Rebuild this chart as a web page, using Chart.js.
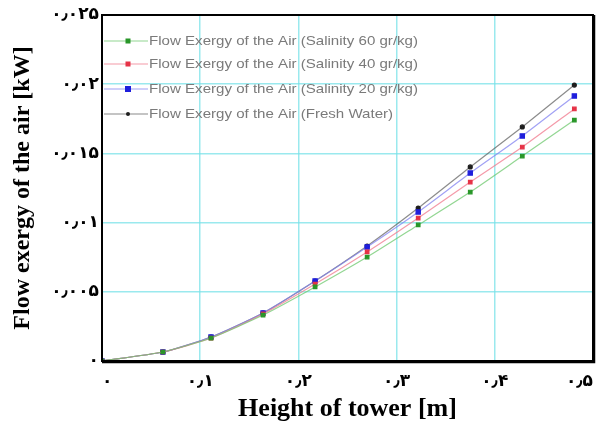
<!DOCTYPE html>
<html>
<head>
<meta charset="utf-8">
<script src="https://cdn.jsdelivr.net/npm/chart.js@4.4.0/dist/chart.umd.min.js"></script>
<style>
  html, body { margin: 0; padding: 0; background: #fff; }
  #c { display: block; }
</style>
</head>
<body>
<canvas id="c" width="599" height="432"></canvas>
<script>
// tower height [m]
var heights = [0, 0.062, 0.111, 0.164, 0.217, 0.270, 0.322, 0.375, 0.428, 0.481];
// flow exergy of the air [kW]
var salinity60 = [0, 0.00065, 0.00166, 0.00332, 0.00535, 0.00751, 0.00983, 0.01221, 0.01481, 0.01741];
var salinity40 = [0, 0.00065, 0.00166, 0.00340, 0.00556, 0.00788, 0.01033, 0.01293, 0.01546, 0.01821];
var salinity20 = [0, 0.00065, 0.00173, 0.00347, 0.00578, 0.00824, 0.01077, 0.01358, 0.01626, 0.01915];
var freshWater = [0, 0.00065, 0.00173, 0.00347, 0.00578, 0.00831, 0.01105, 0.01402, 0.01691, 0.01994];

var seriesNames = [
    'Flow Exergy of the Air (Salinity 60 gr/kg)',
    'Flow Exergy of the Air (Salinity 40 gr/kg)',
    'Flow Exergy of the Air (Salinity 20 gr/kg)',
    'Flow Exergy of the Air (Fresh Water)'
];
var xTickLabels = ['۰', '۰٫۱', '۰٫۲', '۰٫۳', '۰٫۴', '۰٫۵'];
var yTickLabels = ['۰', '۰٫۰۰۵', '۰٫۰۱', '۰٫۰۱۵', '۰٫۰۲', '۰٫۰۲۵'];

function pts(ys) {
    return ys.map(function (y, i) { return { x: heights[i], y: y }; });
}

function series(name, ys, line, mark, style, r) {
    return {
        label: name,
        data: pts(ys),
        showLine: true,
        borderColor: line,
        borderWidth: 1.2,
        backgroundColor: mark,
        pointBackgroundColor: mark,
        pointBorderColor: mark,
        pointStyle: style,
        pointRadius: r,
        tension: 0.2
    };
}

// legend drawn inside the plot, plus the plot frame
var framePlugin = {
    id: 'frame',
    afterDraw: function (chart) {
        var ctx = chart.ctx, a = chart.chartArea;
        ctx.save();
        ctx.strokeStyle = '#000';
        ctx.lineWidth = 2;
        ctx.strokeRect(a.left, a.top, a.right - a.left, a.bottom - a.top);
        ctx.lineWidth = 1.5;
        ctx.beginPath();
        ctx.moveTo(a.right + 1.5, a.top);
        ctx.lineTo(a.right + 1.5, a.bottom + 1.5);
        ctx.lineTo(a.left, a.bottom + 1.5);
        ctx.stroke();

        var rows = [41, 64, 89, 114];
        chart.data.datasets.forEach(function (ds, i) {
            var y = rows[i];
            ctx.strokeStyle = ds.borderColor;
            ctx.lineWidth = 1.2;
            ctx.beginPath();
            ctx.moveTo(a.left + 2, y);
            ctx.lineTo(a.left + 46, y);
            ctx.stroke();
            ctx.fillStyle = ds.pointBackgroundColor;
            var r = ds.pointRadius;
            if (ds.pointStyle === 'rect') {
                ctx.fillRect(a.left + 26 - r, y - r, 2 * r, 2 * r);
            } else {
                ctx.beginPath();
                ctx.arc(a.left + 26, y, r, 0, Math.PI * 2);
                ctx.fill();
            }
            ctx.save();
            ctx.translate(a.left + 47, y);
            ctx.scale(1.16, 1);
            ctx.fillStyle = '#7a7a7a';
            ctx.font = '13px "Liberation Sans", Arial, sans-serif';
            ctx.textBaseline = 'middle';
            ctx.fillText(ds.label, 0, 0);
            ctx.restore();
        });
        ctx.restore();
    }
};

var gridColor = 'rgba(120, 225, 232, 0.75)';
var tickFont = { family: '"DejaVu Sans", sans-serif', size: 17, weight: 'bold' };
var serif = '"Liberation Serif", "Times New Roman", serif';

var ctx = document.getElementById('c').getContext('2d');
var chart = new Chart(ctx, {
    type: 'scatter',
    data: {
        datasets: [
            series(seriesNames[0], salinity60, 'rgba(110, 200, 110, 0.75)', 'rgb(40, 150, 40)', 'rect', 2.5),
            series(seriesNames[1], salinity40, 'rgba(240, 120, 140, 0.75)', 'rgb(230, 50, 70)', 'rect', 2.5),
            series(seriesNames[2], salinity20, 'rgba(130, 130, 240, 0.75)', 'rgb(30, 30, 220)', 'rect', 3),
            series(seriesNames[3], freshWater, 'rgba(90, 90, 90, 0.7)', 'rgb(30, 30, 30)', 'circle', 2)
        ]
    },
    options: {
        responsive: false,
        animation: false,
        layout: { padding: { top: 15, right: 6, left: 0, bottom: 0 } },
        plugins: {
            legend: { display: false },
            tooltip: { enabled: false }
        },
        scales: {
            x: {
                type: 'linear',
                min: 0,
                max: 0.5,
                afterFit: function (s) { s.height = 71; s.paddingLeft = 0; s.paddingRight = 0; },
                ticks: {
                    stepSize: 0.1,
                    padding: 10,
                    align: 'inner',
                    color: '#000',
                    font: tickFont,
                    maxRotation: 0,
                    callback: function (v, i) { return xTickLabels[i]; }
                },
                grid: { color: gridColor, lineWidth: 1.5, drawTicks: false },
                border: { display: false },
                title: {
                    display: true,
                    text: 'Height of tower [m]',
                    color: '#000',
                    font: { family: serif, size: 26, weight: 'bold' },
                    padding: { top: 0, bottom: 7 }
                }
            },
            y: {
                min: 0,
                max: 0.025,
                afterFit: function (s) { s.width = 102; s.paddingTop = 0; s.paddingBottom = 0; },
                ticks: {
                    stepSize: 0.005,
                    padding: 3,
                    color: '#000',
                    font: tickFont,
                    callback: function (v, i) { return yTickLabels[i]; }
                },
                grid: { color: gridColor, lineWidth: 1.5, drawTicks: false },
                border: { display: false },
                title: {
                    display: true,
                    text: 'Flow exergy of the air [kW]',
                    color: '#000',
                    font: { family: serif, size: 24, weight: 'bold' },
                    padding: { top: 8, bottom: 0 }
                }
            }
        }
    },
    plugins: [framePlugin]
});
</script>
</body>
</html>
